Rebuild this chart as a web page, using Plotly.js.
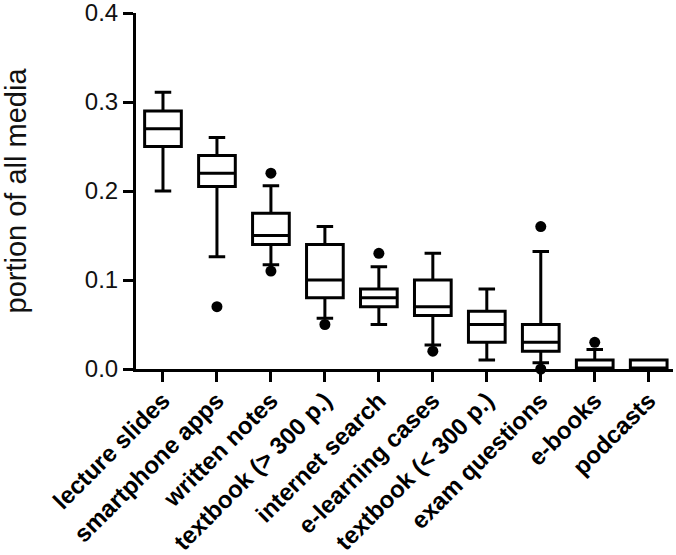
<!DOCTYPE html>
<html>
<head>
<meta charset="utf-8">
<script src="https://cdn.plot.ly/plotly-3.0.1.min.js"></script>
<style>html,body{margin:0;padding:0;background:#fff;}#chart{width:676px;height:555px;}</style>
</head>
<body>
<div id="chart"></div>
<script>
const categories = ["lecture slides","smartphone apps","written notes","textbook (> 300 p.)","internet search","e-learning cases","textbook (< 300 p.)","exam questions","e-books","podcasts"];
const lowerFence = [0.200, 0.126, 0.117, 0.057, 0.050, 0.027, 0.010, 0.007, 0.000, 0.000];
const q1Values   = [0.250, 0.205, 0.140, 0.080, 0.070, 0.060, 0.030, 0.020, 0.000, 0.000];
const medians    = [0.270, 0.220, 0.150, 0.100, 0.080, 0.070, 0.050, 0.030, 0.000, 0.000];
const q3Values   = [0.290, 0.240, 0.175, 0.140, 0.090, 0.100, 0.065, 0.050, 0.010, 0.010];
const upperFence = [0.311, 0.260, 0.206, 0.160, 0.115, 0.130, 0.090, 0.132, 0.022, 0.010];
const outlierCats = ["smartphone apps","written notes","written notes","textbook (> 300 p.)","internet search","e-learning cases","exam questions","exam questions","e-books"];
const outlierVals = [0.070, 0.220, 0.110, 0.050, 0.130, 0.020, 0.160, 0.000, 0.030];
const yTicks = [0, 0.1, 0.2, 0.3, 0.4];

const boxTrace = {
  type: 'box',
  x: categories,
  q1: q1Values,
  median: medians,
  q3: q3Values,
  lowerfence: lowerFence,
  upperfence: upperFence,
  boxpoints: false,
  fillcolor: 'white',
  line: {color: 'black', width: 3},
  width: 0.68,
  whiskerwidth: 0.45,
  hoverinfo: 'skip',
  showlegend: false
};
const outlierTrace = {
  type: 'scatter',
  mode: 'markers',
  x: outlierCats,
  y: outlierVals,
  marker: {color: 'black', size: 11},
  cliponaxis: false,
  hoverinfo: 'skip',
  showlegend: false
};
const layout = {
  width: 676, height: 555,
  margin: {l: 136, r: 3, t: 13, b: 186},
  paper_bgcolor: 'white', plot_bgcolor: 'white',
  showlegend: false,
  xaxis: {
    type: 'category',
    categoryorder: 'array', categoryarray: categories,
    range: [-0.5, 9.45],
    showline: true, linecolor: 'black', linewidth: 3,
    ticks: 'outside', ticklen: 10, tickwidth: 3, tickcolor: 'black',
    tickangle: -45,
    ticklabelstandoff: -5,
    tickfont: {family: 'Liberation Sans, Arial, sans-serif', size: 24, color: 'black', weight: 'bold'},
    showgrid: false, zeroline: false, fixedrange: true
  },
  yaxis: {
    range: [0, 0.4],
    tickvals: yTicks,
    tickformat: '.1f',
    ticklabeloverflow: 'allow',
    showline: true, linecolor: 'black', linewidth: 3,
    ticks: 'outside', ticklen: 10, tickwidth: 3, tickcolor: 'black',
    tickfont: {family: 'Liberation Sans, Arial, sans-serif', size: 24, color: '#111'},
    title: {text: 'portion of all media', font: {family: 'Liberation Sans, Arial, sans-serif', size: 29, color: '#111'}, standoff: 52},
    showgrid: false, zeroline: false, fixedrange: true
  }
};
Plotly.newPlot('chart', [boxTrace, outlierTrace], layout, {displayModeBar: false, staticPlot: true});
</script>
</body>
</html>
